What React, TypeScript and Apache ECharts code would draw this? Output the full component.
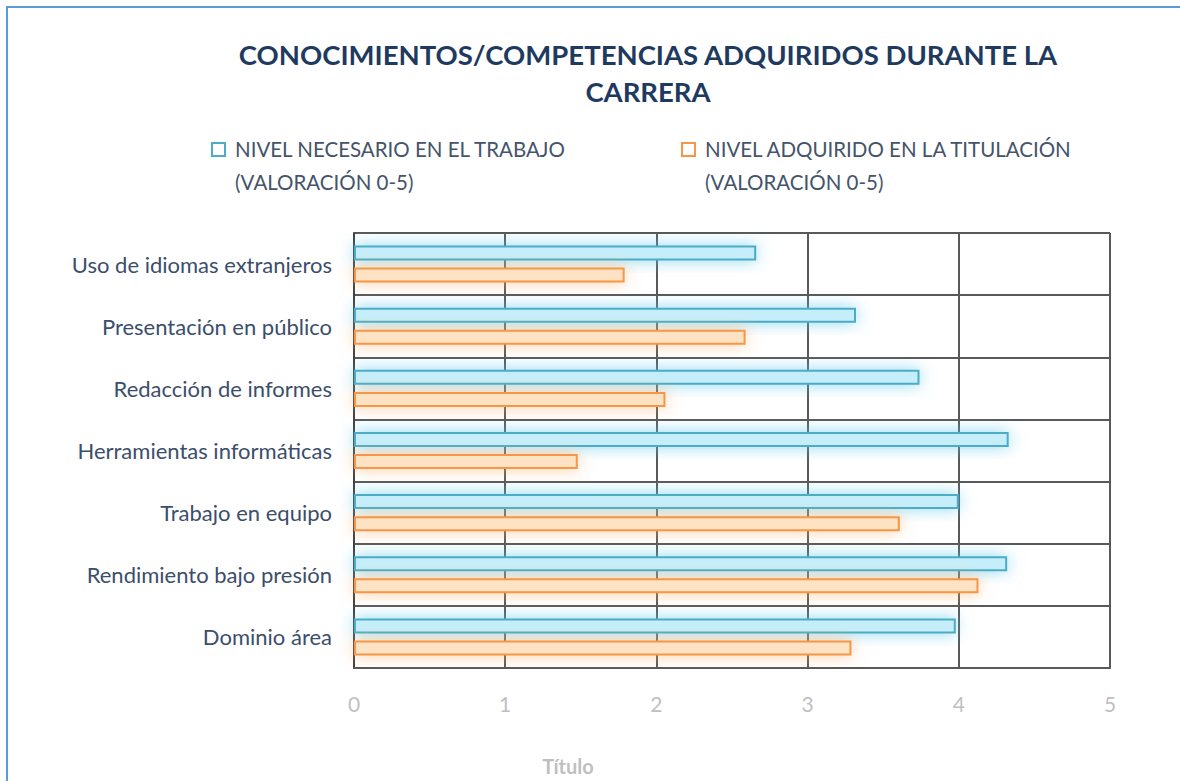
import React, { useEffect, useRef } from "react";
import * as echarts from "echarts";

const categories = [
  "Uso de idiomas extranjeros",
  "Presentación en público",
  "Redacción de informes",
  "Herramientas informáticas",
  "Trabajo en equipo",
  "Rendimiento bajo presión",
  "Dominio área",
];
const necesario = [2.66, 3.32, 3.74, 4.33, 4.0, 4.32, 3.98];
const adquirido = [1.79, 2.59, 2.06, 1.48, 3.61, 4.13, 3.29];
const seriesNames = [
  "NIVEL NECESARIO EN EL TRABAJO\n(VALORACIÓN 0-5)",
  "NIVEL ADQUIRIDO EN LA TITULACIÓN\n(VALORACIÓN 0-5)",
];
const titleText = "CONOCIMIENTOS/COMPETENCIAS ADQUIRIDOS DURANTE LA\nCARRERA";
const axisTitle = "Título";

const FONT = "Lato, 'Open Sans', sans-serif";
const BLUE = "#4bacc6";
const ORANGE = "#f79646";

export default function App() {
  const ref = useRef<HTMLDivElement>(null);
  useEffect(() => {
    if (!ref.current) return;
    const chart = echarts.init(ref.current, undefined, { renderer: "svg" });
    const legendText = {
      color: "#44546a",
      fontSize: 20.5,
      fontFamily: FONT,
      lineHeight: 33,
    };
    const legendCommon = {
      top: 127,
      itemWidth: 0,
      itemHeight: 0,
      icon: "none",
      selectedMode: false,
      textStyle: legendText,
    };
    chart.setOption({
      animation: false,
      backgroundColor: "#ffffff",
      title: {
        text: titleText,
        left: 643,
        top: 31,
        textAlign: "center",
        textStyle: {
          color: "#1f3a5f",
          fontSize: 27.5,
          fontWeight: "bold",
          fontFamily: FONT,
          lineHeight: 37,
        },
      },
      legend: [
        { ...legendCommon, data: [seriesNames[0]], left: 225 },
        { ...legendCommon, data: [seriesNames[1]], left: 695 },
      ],
      grid: { left: 354, right: 70, top: 233, bottom: 110, containLabel: false },
      xAxis: {
        type: "value",
        min: 0,
        max: 5,
        interval: 1,
        axisLine: { show: true, lineStyle: { color: "#595959", width: 2 } },
        axisTick: { show: false },
        splitLine: { show: true, lineStyle: { color: "#595959", width: 2 } },
        axisLabel: { color: "#bfbfbf", fontSize: 21, fontFamily: FONT, margin: 25 },
        name: axisTitle,
        nameLocation: "middle",
        nameGap: 88,
        nameTextStyle: {
          color: "#bfbfbf",
          fontSize: 20,
          fontWeight: "bold",
          fontFamily: FONT,
          padding: [0, 328, 0, 0],
        },
      },
      yAxis: {
        type: "category",
        inverse: true,
        data: categories,
        axisLine: { show: true, lineStyle: { color: "#404040", width: 2 } },
        axisTick: { show: false },
        splitLine: { show: true, lineStyle: { color: "#595959", width: 2 } },
        axisLabel: { color: "#3b4e6b", fontSize: 22, fontFamily: FONT, margin: 22 },
      },
      series: [
        {
          name: seriesNames[0],
          type: "bar",
          data: necesario,
          barWidth: 15,
          barGap: "47%",
          itemStyle: {
            color: "#c6eefa",
            borderColor: BLUE,
            borderWidth: 2,
            shadowBlur: 16,
            shadowColor: "rgba(90,200,235,0.7)",
          },
        },
        {
          name: seriesNames[1],
          type: "bar",
          data: adquirido,
          barWidth: 15,
          barGap: "47%",
          itemStyle: {
            color: "#fde2c4",
            borderColor: ORANGE,
            borderWidth: 2,
            shadowBlur: 16,
            shadowColor: "rgba(250,170,100,0.6)",
          },
        },
      ],
      graphic: [
        {
          type: "rect",
          shape: { x: 212, y: 143, width: 13, height: 13 },
          style: { fill: "#ffffff", stroke: BLUE, lineWidth: 2 },
          silent: true,
        },
        {
          type: "rect",
          shape: { x: 682, y: 143, width: 13, height: 13 },
          style: { fill: "#ffffff", stroke: ORANGE, lineWidth: 2 },
          silent: true,
        },
        {
          type: "rect",
          shape: { x: 7, y: 7, width: 1220, height: 820 },
          style: { fill: "none", stroke: "#5b9bd5", lineWidth: 2 },
          silent: true,
          z: 100,
        },
      ],
    });
    return () => chart.dispose();
  }, []);
  return (
    <div
      ref={ref}
      style={{ position: "fixed", left: 0, top: 0, width: 1180, height: 781 }}
    />
  );
}
